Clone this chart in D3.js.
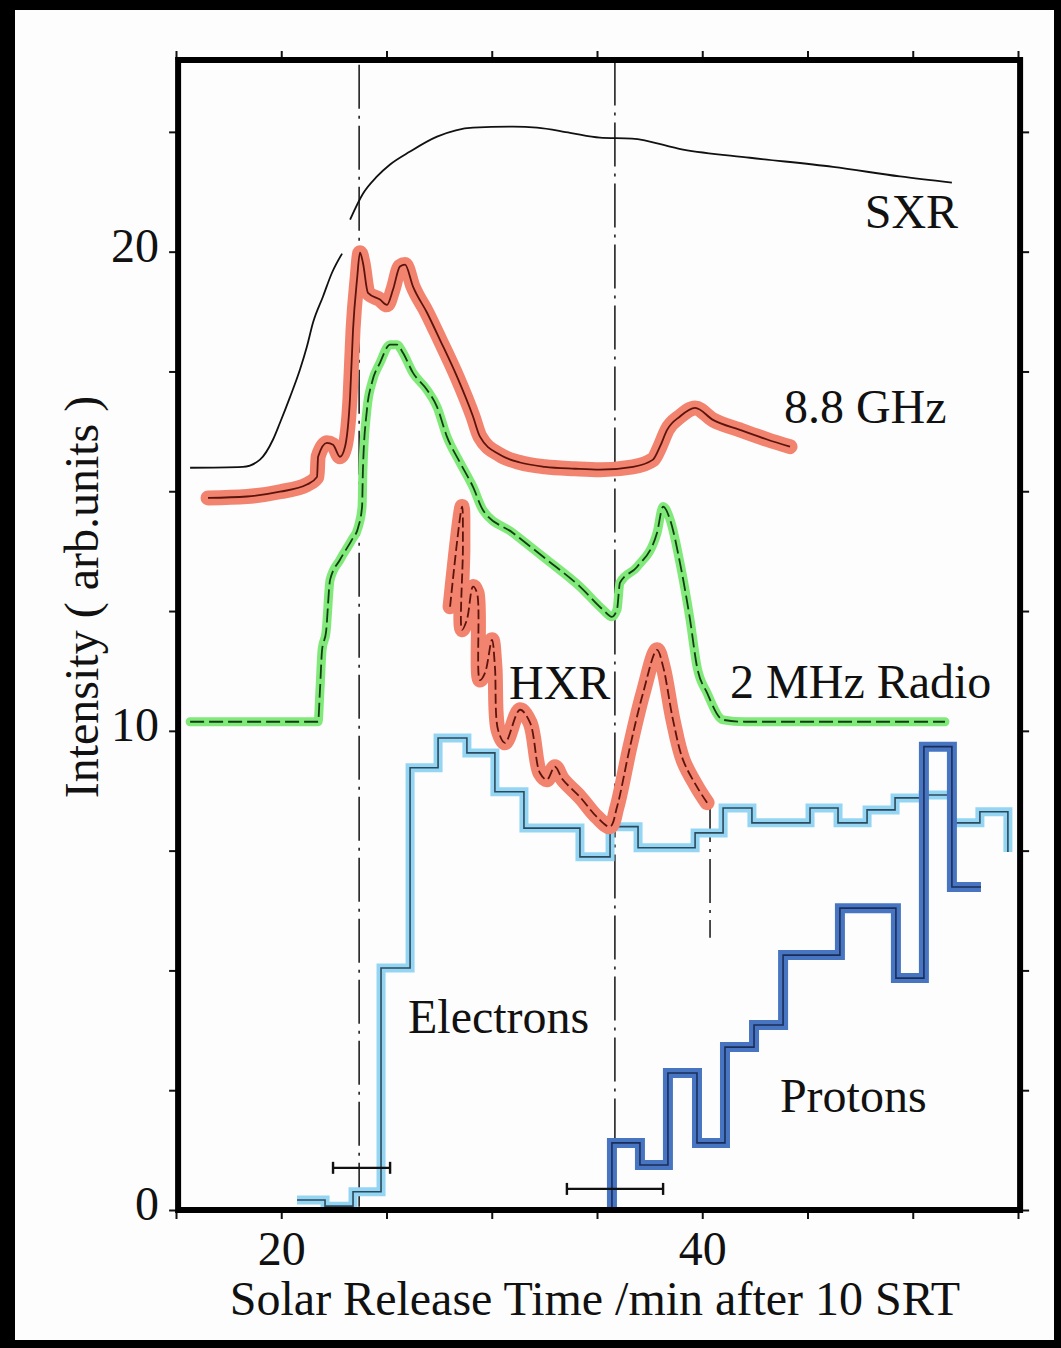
<!DOCTYPE html>
<html>
<head>
<meta charset="utf-8">
<script src="https://cdn.jsdelivr.net/npm/d3@7"></script>
<style>
  html, body { margin: 0; padding: 0; background: #000; }
  svg { display: block; }
  text { font-family: "Liberation Serif", "Times New Roman", serif; fill: #111; }
</style>
</head>
<body>
<div id="chart"></div>
<script>
// time in minutes after 10 SRT, intensity in arb. units
var sxrTime  = [15.67, 18.18, 18.99, 19.61, 19.94, 20.42, 20.89, 21.22, 21.51, 21.98, 22.41, 22.89, 23.1,
                23.27, 23.88, 24.55, 25.17, 26.12, 27.40, 29.11, 31.01, 32.15, 33.72, 35.14, 36.66, 39.09, 42.27, 46.21, 49.39, 51.86];
var sxrValue = [15.49, 15.51, 15.66, 16.08, 16.43, 16.97, 17.54, 18.02, 18.52, 19.06, 19.56, 19.96, null,
                20.67, 21.21, 21.57, 21.82, 22.09, 22.40, 22.59, 22.61, 22.59, 22.48, 22.38, 22.36, 22.13, 21.96, 21.77, 21.57, 21.44];

var ghzTime  = [16.52, 18.37, 19.94, 21.22, 21.70, 21.75, 22.17, 22.46, 22.79, 23.03, 23.27, 23.41, 23.60, 23.74, 23.88,
                24.12, 24.69, 25.02, 25.31, 25.64, 25.88, 26.26, 26.92, 27.54, 28.35, 29.11, 29.44, 30.39, 31.34, 32.53,
                33.95, 35.14, 36.71, 37.66, 37.99, 38.33, 38.94, 39.66, 40.51, 41.79, 43.08, 44.17];
var ghzValue = [14.86, 14.89, 14.99, 15.14, 15.30, 15.72, 16.01, 15.97, 15.72, 15.93, 16.97, 18.37, 19.42, 19.98, 19.77,
                19.14, 19.00, 18.89, 19.21, 19.69, 19.73, 19.27, 18.73, 18.16, 17.39, 16.56, 16.14, 15.76, 15.60, 15.51,
                15.47, 15.45, 15.51, 15.66, 15.93, 16.28, 16.56, 16.74, 16.49, 16.28, 16.08, 15.93];

var radioTime  = [15.67, 21.75, 21.84, 21.94, 22.13, 22.32, 22.79, 23.36, 23.65, 23.84, 23.88, 24.07, 24.31, 24.69, 25.17,
                  25.50, 25.78, 26.26, 26.92, 27.40, 27.87, 28.49, 29.11, 29.58, 31.01, 32.62, 34.19, 35.28, 35.71, 35.95,
                  36.09, 36.90, 37.85, 38.14, 38.47, 38.94, 39.42, 39.75, 40.23, 40.99, 42.03, 51.53];
var radioValue = [10.19, 10.19, 10.86, 11.69, 12.07, 13.15, 13.57, 13.99, 14.24, 14.68, 15.45, 16.70, 17.27, 17.68, 18.06,
                  18.06, 17.89, 17.47, 17.12, 16.76, 16.14, 15.60, 15.09, 14.61, 14.13, 13.57, 13.01, 12.53, 12.38, 12.53,
                  13.09, 13.42, 14.13, 14.68, 14.41, 13.51, 12.32, 11.34, 10.79, 10.23, 10.19, 10.19];

var hxrTime  = [28.02, 28.59, 28.63, 28.59, 28.82, 29.11, 29.30, 29.44, 29.68, 30.01, 30.15, 30.30, 30.63, 31.34, 31.82,
                32.29, 32.62, 33.00, 33.38, 34.19, 35.00, 35.62, 35.95, 36.57, 37.19, 37.85, 38.14, 38.61, 39.09, 39.75, 40.23];
var hxrValue = [12.59, 14.68, 13.84, 12.11, 12.32, 13.01, 12.88, 11.06, 11.21, 11.90, 11.34, 10.02, 9.75, 10.44, 10.17,
                9.12, 8.98, 9.25, 8.98, 8.62, 8.20, 8.00, 8.41, 9.67, 10.79, 11.69, 11.34, 10.23, 9.39, 8.83, 8.50];

var electronEdges  = [20.75, 22.08, 23.41, 24.74, 26.12, 27.45, 28.82, 30.15, 31.53, 32.86, 34.19, 35.62, 36.95,
                      38.33, 39.66, 40.99, 42.36, 43.74, 45.12, 46.45, 47.83, 49.16, 50.49, 51.86, 53.19, 54.52];
var electronCounts = [0.21, 0.08, 0.38, 5.05, 9.23, 9.85, 9.54, 8.73, 7.97, 7.97, 7.37, 8.00, 7.56,
                      7.56, 7.87, 8.39, 8.08, 8.08, 8.39, 8.08, 8.35, 8.60, 8.66, 8.08, 8.31];
var electronTail = 7.47;

var protonEdges  = [35.71, 37.04, 38.37, 39.75, 41.08, 42.46, 43.84, 45.17, 46.54, 47.87, 49.20, 50.53, 51.86, 53.24];
var protonCounts = [1.40, 0.94, 2.86, 1.40, 3.40, 3.86, 5.32, 5.32, 6.30, 6.30, 4.84, 9.67, 6.74];

// release time error bars
var errCenter = [23.65, 35.76];
var errLow    = [22.46, 33.57];
var errHigh   = [25.17, 38.14];
var errLevel  = [0.88, 0.44];

// dash-dot reference lines
var refTime   = [23.7, 35.85, 40.37];
var refTop    = [23.9, 23.97, 8.6];
var refBottom = [0, 0, 5.68];

var labelText = ["SXR", "8.8 GHz", "HXR", "2 MHz Radio", "Electrons", "Protons"];
var labelTime = [47.72, 43.88, 30.82, 41.32, 26.02, 43.69];
var labelVal  = [20.50, 16.43, 10.67, 10.69, 3.70, 2.05];

var xTicks = [15, 20, 25, 30, 35, 40, 45, 50, 55];
var yTicks = [0, 2.5, 5, 7.5, 10, 12.5, 15, 17.5, 20, 22.5];

var W = 1061, H = 1348;
var svg = d3.select("#chart").append("svg")
    .attr("width", W).attr("height", H);

// black scan border
svg.append("rect").attr("width", W).attr("height", H).attr("fill", "#000");
svg.append("rect").attr("x", 15).attr("y", 10).attr("width", 1054 - 15).attr("height", 1340 - 10).attr("fill", "#fdfdfd");

var x = d3.scaleLinear().domain([15, 55]).range([176, 1018]);
var y = d3.scaleLinear().domain([0, 24]).range([1210, 60]);

function pts(ts, vs) {
    return ts.map(function (t, i) { return { t: t, v: vs[i] }; });
}
function steps(edges, counts) {
    var out = [];
    counts.forEach(function (c, i) {
        out.push({ t: edges[i], v: c });
        out.push({ t: edges[i + 1], v: c });
    });
    return out;
}

var smooth = d3.line()
    .defined(function (d) { return d.v != null; })
    .x(function (d) { return x(d.t); })
    .y(function (d) { return y(d.v); })
    .curve(d3.curveMonotoneX);
var wiggly = d3.line()
    .x(function (d) { return x(d.t); })
    .y(function (d) { return y(d.v); })
    .curve(d3.curveCatmullRom.alpha(0.5));
var straight = d3.line()
    .x(function (d) { return x(d.t); })
    .y(function (d) { return y(d.v); });

// reference lines
var refs = svg.append("g");
refTime.forEach(function (t, i) {
    refs.append("line")
        .attr("x1", x(t)).attr("x2", x(t))
        .attr("y1", y(refTop[i])).attr("y2", y(refBottom[i]))
        .attr("stroke", "#222").attr("stroke-width", 1.6)
        .attr("stroke-dasharray", "44,7,3,7");
});

// electrons
var elecPts = steps(electronEdges, electronCounts);
elecPts.push({ t: electronEdges[electronEdges.length - 1], v: electronTail });
svg.append("path").datum(elecPts).attr("d", straight)
    .attr("fill", "none").attr("stroke", "#93d5f3").attr("stroke-width", 9);
svg.append("path").datum(elecPts).attr("d", straight)
    .attr("fill", "none").attr("stroke", "#2c4a5c").attr("stroke-width", 1.6);

// protons
var protPts = [{ t: protonEdges[0], v: 0 }].concat(steps(protonEdges, protonCounts));
svg.append("path").datum(protPts).attr("d", straight)
    .attr("fill", "none").attr("stroke", "#4875c2").attr("stroke-width", 10);
svg.append("path").datum(protPts).attr("d", straight)
    .attr("fill", "none").attr("stroke", "#1b2e5a").attr("stroke-width", 1.6);

// SXR
svg.append("path").datum(pts(sxrTime, sxrValue)).attr("d", smooth)
    .attr("fill", "none").attr("stroke", "#111").attr("stroke-width", 1.8);

// 2 MHz radio
var radio = pts(radioTime, radioValue);
svg.append("path").datum(radio).attr("d", smooth)
    .attr("fill", "none").attr("stroke", "#80e97a").attr("stroke-width", 9)
    .attr("stroke-linecap", "round").attr("stroke-linejoin", "round");
svg.append("path").datum(radio).attr("d", smooth)
    .attr("fill", "none").attr("stroke", "#123d12").attr("stroke-width", 1.8)
    .attr("stroke-dasharray", "14,5");

// 8.8 GHz
var ghz = pts(ghzTime, ghzValue);
svg.append("path").datum(ghz).attr("d", smooth)
    .attr("fill", "none").attr("stroke", "#f2836f").attr("stroke-width", 15)
    .attr("stroke-linecap", "round").attr("stroke-linejoin", "round");
svg.append("path").datum(ghz).attr("d", smooth)
    .attr("fill", "none").attr("stroke", "#5a140c").attr("stroke-width", 1.8);

// HXR
var hxr = pts(hxrTime, hxrValue);
svg.append("path").datum(hxr).attr("d", wiggly)
    .attr("fill", "none").attr("stroke", "#f2836f").attr("stroke-width", 15)
    .attr("stroke-linecap", "round").attr("stroke-linejoin", "round");
svg.append("path").datum(hxr).attr("d", wiggly)
    .attr("fill", "none").attr("stroke", "#5a140c").attr("stroke-width", 1.8)
    .attr("stroke-dasharray", "10,4");

// error bars
var errs = svg.append("g").attr("stroke", "#111").attr("stroke-width", 2.4);
errCenter.forEach(function (c, i) {
    var yy = y(errLevel[i]);
    errs.append("line").attr("x1", x(errLow[i])).attr("x2", x(errHigh[i])).attr("y1", yy).attr("y2", yy);
    errs.append("line").attr("x1", x(errLow[i])).attr("x2", x(errLow[i])).attr("y1", yy - 6).attr("y2", yy + 6);
    errs.append("line").attr("x1", x(errHigh[i])).attr("x2", x(errHigh[i])).attr("y1", yy - 6).attr("y2", yy + 6);
});

// axes
var fontSize = 48;
var axisBottomG = svg.append("g").attr("transform", "translate(0," + y(0) + ")")
    .call(d3.axisBottom(x).tickValues(xTicks).tickSize(9).tickPadding(12)
        .tickFormat(function (d) { return (d === 20 || d === 40) ? d : ""; }));
var axisTopG = svg.append("g").attr("transform", "translate(0," + y(24) + ")")
    .call(d3.axisTop(x).tickValues(xTicks).tickSize(9).tickFormat(""));
var axisLeftG = svg.append("g").attr("transform", "translate(" + x(15.1) + ",0)")
    .call(d3.axisLeft(y).tickValues(yTicks).tickSize(9).tickPadding(10)
        .tickFormat(function (d) { return (d === 0 || d === 10 || d === 20) ? d : ""; }));
var axisRightG = svg.append("g").attr("transform", "translate(" + x(55.1) + ",0)")
    .call(d3.axisRight(y).tickValues(yTicks).tickSize(9).tickFormat(""));

[axisBottomG, axisTopG, axisLeftG, axisRightG].forEach(function (g) {
    g.select(".domain").remove();
    g.selectAll(".tick line").attr("stroke", "#111").attr("stroke-width", 2);
    g.selectAll(".tick text").attr("font-size", fontSize)
        .style("font-family", "'Liberation Serif', serif").attr("fill", "#111");
});
axisLeftG.selectAll(".tick text").attr("dy", "0.2em");

// thick frame
svg.append("rect")
    .attr("x", x(15.1)).attr("y", y(24))
    .attr("width", x(55.1) - x(15.1)).attr("height", y(0) - y(24))
    .attr("fill", "none").attr("stroke", "#000").attr("stroke-width", 6);

// series labels
labelText.forEach(function (s, i) {
    svg.append("text")
        .attr("x", x(labelTime[i])).attr("y", y(labelVal[i]))
        .attr("font-size", fontSize)
        .text(s);
});

// axis titles
svg.append("text")
    .attr("x", 595).attr("y", 1315)
    .attr("text-anchor", "middle")
    .attr("font-size", fontSize)
    .text("Solar Release Time /min after 10 SRT");

svg.append("text")
    .attr("transform", "translate(98,597) rotate(-90)")
    .attr("text-anchor", "middle")
    .attr("font-size", fontSize)
    .text("Intensity ( arb.units )");
</script>
</body>
</html>
